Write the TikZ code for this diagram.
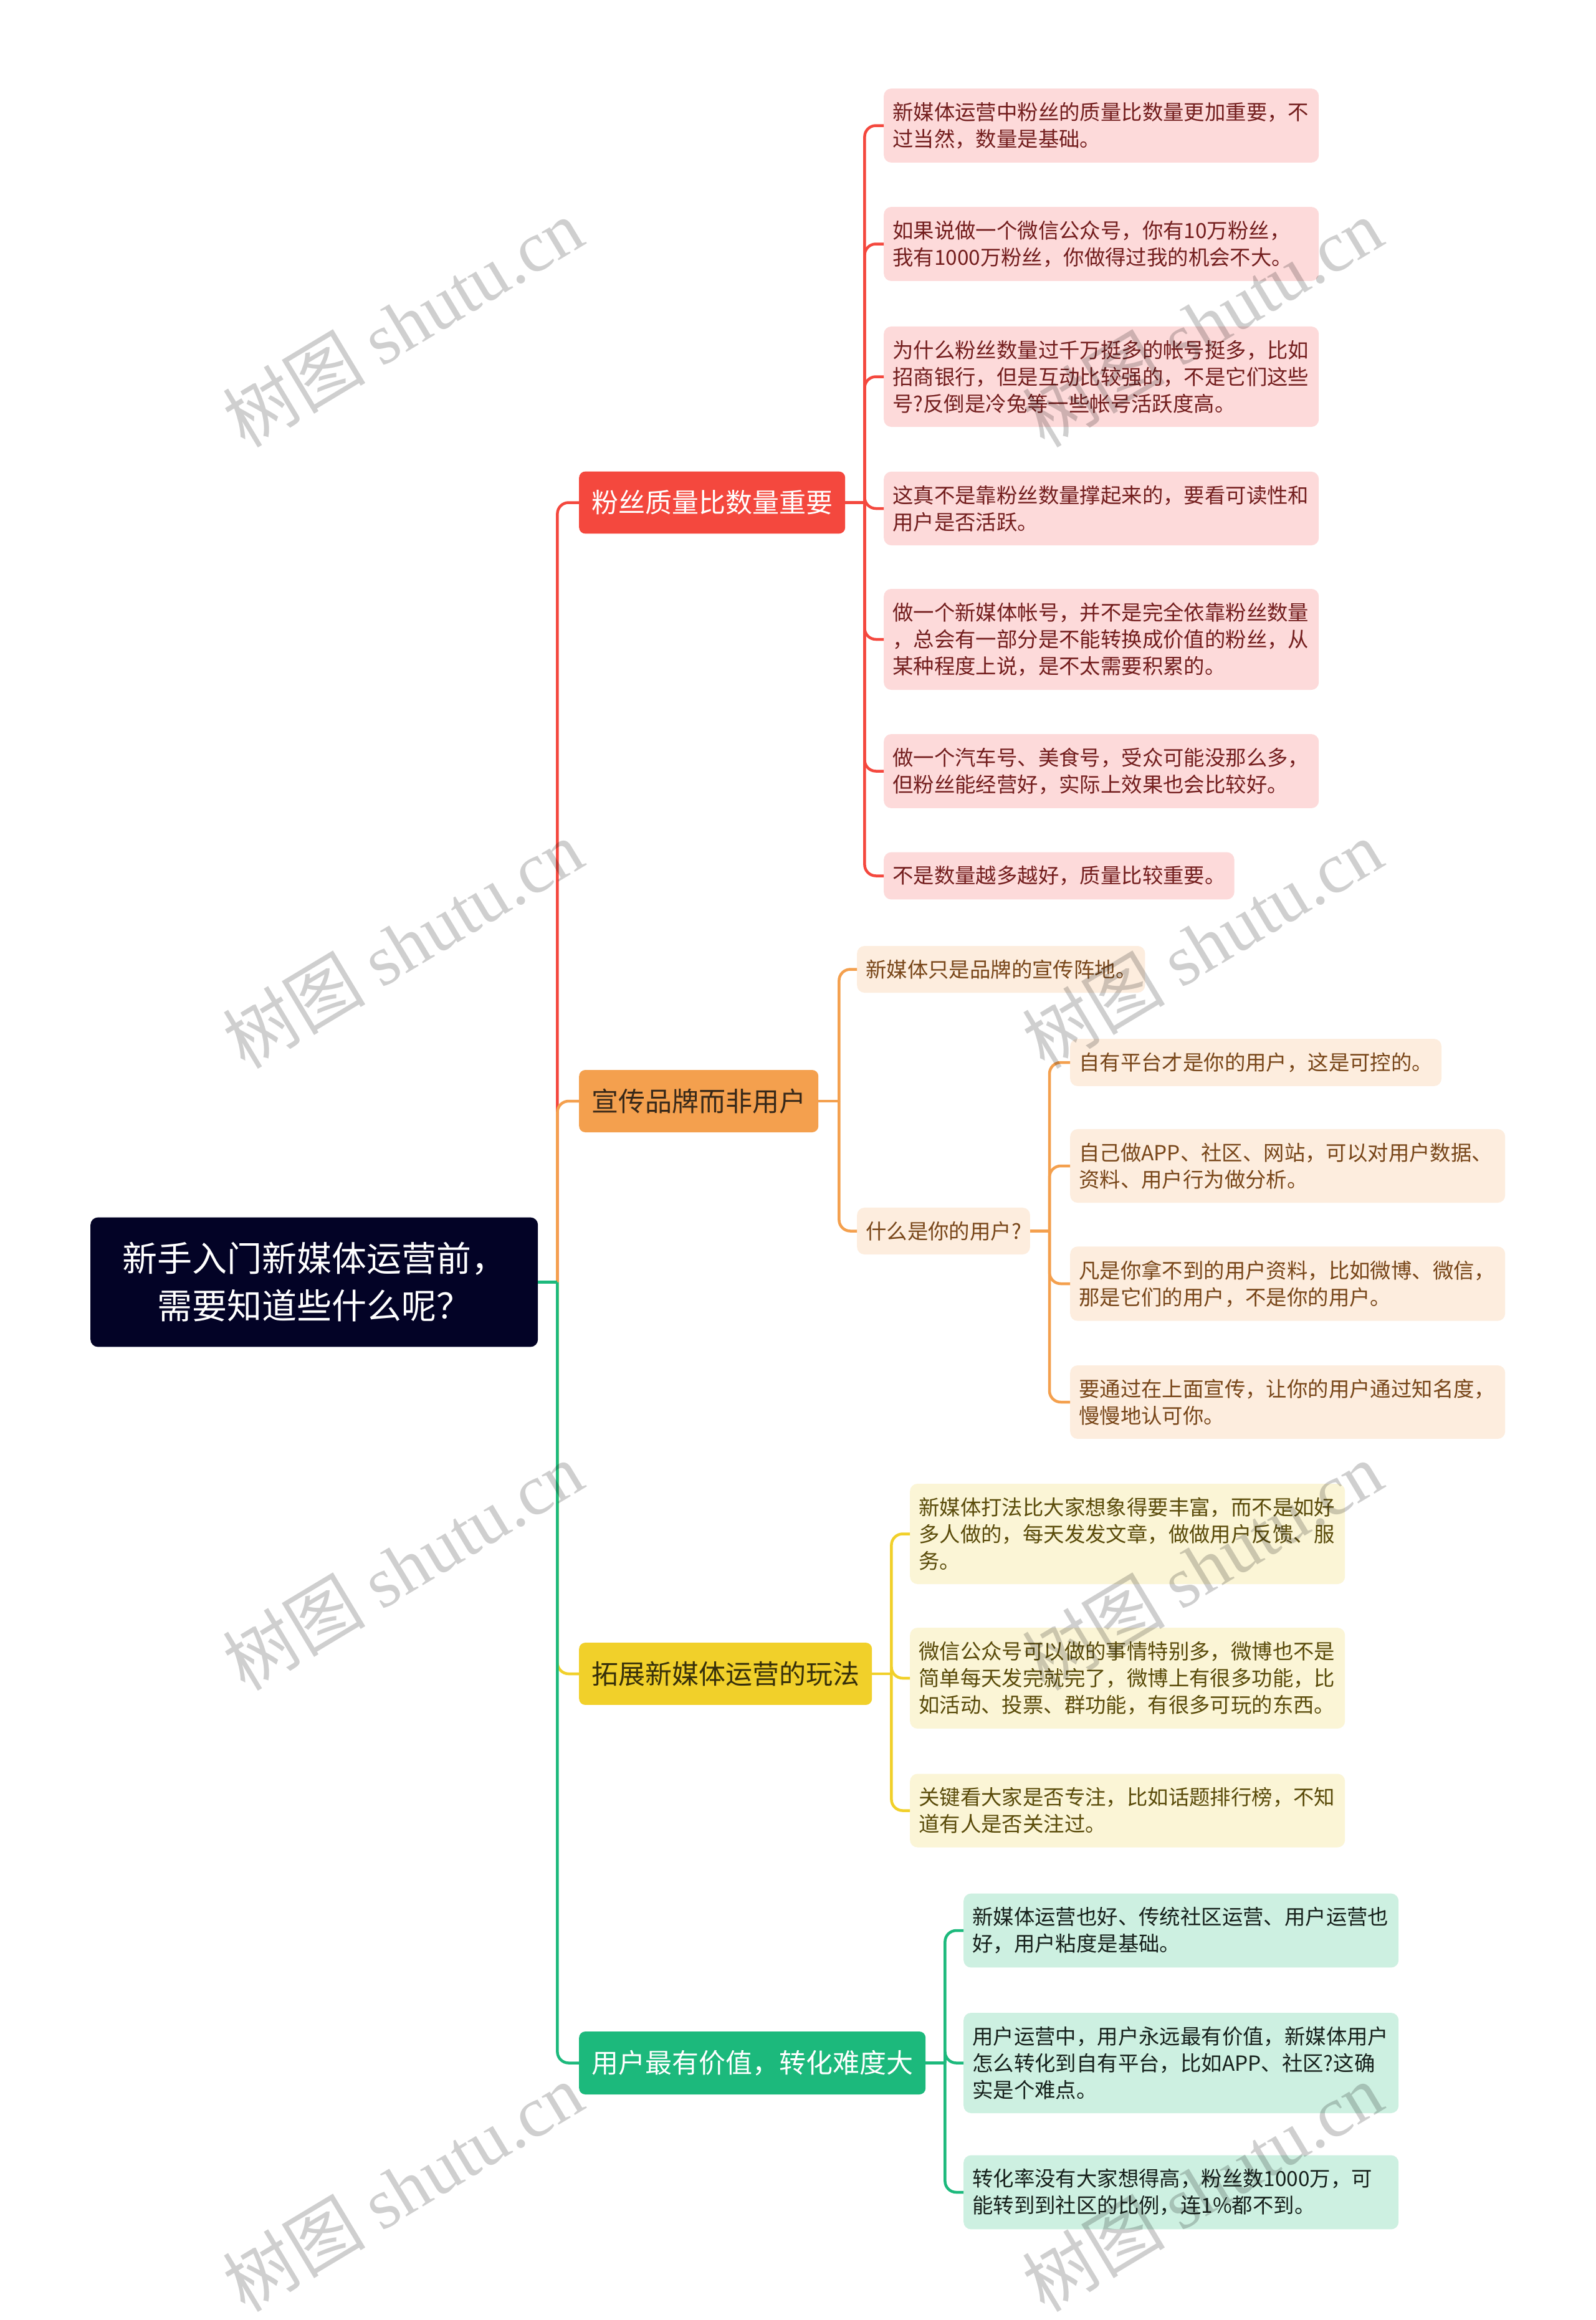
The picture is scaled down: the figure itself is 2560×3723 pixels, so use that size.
\documentclass[tikz,border=0pt]{standalone}
\usepackage{fontspec}
\setmainfont{Noto Sans CJK SC}
\newfontfamily\wmlatin{Liberation Serif}
\definecolor{rootbg}{RGB}{3,3,38}
\definecolor{redM}{RGB}{244,72,62}
\definecolor{orgM}{RGB}{244,160,78}
\definecolor{yelM}{RGB}{241,208,42}
\definecolor{grnM}{RGB}{28,185,124}
\definecolor{redL}{RGB}{253,218,218}
\definecolor{orgL}{RGB}{253,237,222}
\definecolor{yelL}{RGB}{251,245,214}
\definecolor{grnL}{RGB}{205,240,225}
\definecolor{redT}{RGB}{115,30,30}
\definecolor{orgT}{RGB}{120,70,25}
\definecolor{yelT}{RGB}{90,75,10}
\definecolor{grnT}{RGB}{22,32,27}
\definecolor{orgD}{RGB}{55,40,25}
\definecolor{yelD}{RGB}{55,48,10}
\tikzset{
  rootbox/.style={anchor=west, fill=rootbg, text=white, rounded corners=12pt,
    align=center, inner xsep=51pt, inner ysep=40pt, font=\fontsize{56}{76}\selectfont},
  mainbox/.style={anchor=west, rounded corners=10pt, inner xsep=20pt, inner ysep=30pt,
    font=\fontsize{43}{50}\selectfont},
  leaf/.style={anchor=west, rounded corners=12pt, align=left, inner xsep=14pt,
    inner ysep=22pt, font=\fontsize{33.4}{43}\selectfont},
  wide/.style={text width=670pt},
  rleaf/.style={leaf, fill=redL, text=redT},
  oleaf/.style={leaf, fill=orgL, text=orgT},
  yleaf/.style={leaf, fill=yelL, text=yelT},
  gleaf/.style={leaf, fill=grnL, text=grnT},
  link/.style={line width=4.5pt},
  wmark/.style={rotate=31, text=black, opacity=0.19, font=\fontsize{115}{115}\selectfont}
}
\begin{document}
\begin{tikzpicture}[x=1pt,y=-1pt]
    \fill[white] (0,0) rectangle (2560,3723);
    \useasboundingbox (0,0) rectangle (2560,3723);

    % root and main topics
    \node[rootbox] (root) at (145,2057.5) {新手入门新媒体运营前，\\需要知道些什么呢？};
    \node[mainbox, fill=redM, text=white] (fans) at (929,806.5) {粉丝质量比数量重要};
    \node[mainbox, fill=orgM, text=orgD] (brand) at (929,1767) {宣传品牌而非用户};
    \node[mainbox, fill=yelM, text=yelD] (play) at (929,2686) {拓展新媒体运营的玩法};
    \node[mainbox, fill=grnM, text=white] (value) at (929,3310.5) {用户最有价值，转化难度大};

    % fans
    \node[rleaf, wide] (f1) at (1418,201.5) {新媒体运营中粉丝的质量比数量更加重要，不\\过当然，数量是基础。};
    \node[rleaf, wide] (f2) at (1418,391.5) {如果说做一个微信公众号，你有10万粉丝，\\我有1000万粉丝，你做得过我的机会不大。};
    \node[rleaf, wide] (f3) at (1418,604.5) {为什么粉丝数量过千万挺多的帐号挺多，比如\\招商银行，但是互动比较强的，不是它们这些\\号?反倒是冷兔等一些帐号活跃度高。};
    \node[rleaf, wide] (f4) at (1418,816) {这真不是靠粉丝数量撑起来的，要看可读性和\\用户是否活跃。};
    \node[rleaf, wide] (f5) at (1418,1026) {做一个新媒体帐号，并不是完全依靠粉丝数量\\，总会有一部分是不能转换成价值的粉丝，从\\某种程度上说，是不太需要积累的。};
    \node[rleaf, wide] (f6) at (1418,1237.5) {做一个汽车号、美食号，受众可能没那么多，\\但粉丝能经营好，实际上效果也会比较好。};
    \node[rleaf] (f7) at (1418,1405.5) {不是数量越多越好，质量比较重要。};

    % brand
    \node[oleaf] (b1) at (1375,1555.5) {新媒体只是品牌的宣传阵地。};
    \node[oleaf] (b2) at (1375,1975.5) {什么是你的用户?};
    \node[oleaf] (u1) at (1717,1705) {自有平台才是你的用户，这是可控的。};
    \node[oleaf, wide] (u2) at (1717,1871) {自己做APP、社区、网站，可以对用户数据、\\资料、用户行为做分析。};
    \node[oleaf, wide] (u3) at (1717,2060) {凡是你拿不到的用户资料，比如微博、微信，\\那是它们的用户，不是你的用户。};
    \node[oleaf, wide] (u4) at (1717,2250) {要通过在上面宣传，让你的用户通过知名度，\\慢慢地认可你。};

    % play
    \node[yleaf, wide] (p1) at (1460,2461.5) {新媒体打法比大家想象得要丰富，而不是如好\\多人做的，每天发发文章，做做用户反馈、服\\务。};
    \node[yleaf, wide] (p2) at (1460,2693) {微信公众号可以做的事情特别多，微博也不是\\简单每天发完就完了，微博上有很多功能，比\\如活动、投票、群功能，有很多可玩的东西。};
    \node[yleaf, wide] (p3) at (1460,2905.5) {关键看大家是否专注，比如话题排行榜，不知\\道有人是否关注过。};

    % value
    \node[gleaf, wide] (v1) at (1546,3098) {新媒体运营也好、传统社区运营、用户运营也\\好，用户粘度是基础。};
    \node[gleaf, wide] (v2) at (1546,3310.5) {用户运营中，用户永远最有价值，新媒体用户\\怎么转化到自有平台，比如APP、社区?这确\\实是个难点。};
    \node[gleaf, wide] (v3) at (1546,3518) {转化率没有大家想得高，粉丝数1000万，可\\能转到到社区的比例，连1\%都不到。};

    % connectors
    \coordinate (rj) at ([xshift=31pt]root.east);
    \foreach \b/\c in {fans/redM, brand/orgM, play/yelM, value/grnM}
        \draw[link, \c, rounded corners=18pt] (rj) |- (\b.west);
    \draw[link, grnM] (root.east) -- (rj);

    \coordinate (fj) at ([xshift=31pt]fans.east);
    \draw[link, redM] (fans.east) -- (fj);
    \foreach \i in {1,...,7}
        \draw[link, redM, rounded corners=18pt] (fj) |- (f\i.west);

    \coordinate (bj) at ([xshift=33pt]brand.east);
    \draw[link, orgM] (brand.east) -- (bj);
    \foreach \i in {1,2}
        \draw[link, orgM, rounded corners=18pt] (bj) |- (b\i.west);
    \coordinate (uj) at ([xshift=31pt]b2.east);
    \draw[link, orgM] (b2.east) -- (uj);
    \foreach \i in {1,...,4}
        \draw[link, orgM, rounded corners=18pt] (uj) |- (u\i.west);

    \coordinate (pj) at ([xshift=31pt]play.east);
    \draw[link, yelM] (play.east) -- (pj);
    \foreach \i in {1,2,3}
        \draw[link, yelM, rounded corners=18pt] (pj) |- (p\i.west);

    \coordinate (vj) at ([xshift=31pt]value.east);
    \draw[link, grnM] (value.east) -- (vj);
    \foreach \i in {1,2,3}
        \draw[link, grnM, rounded corners=18pt] (vj) |- (v\i.west);

    % watermark
    \foreach \x in {646,1929}
        \foreach \y in {518,1515,2513,3510}
            \node[wmark] (wm\x\y) at (\x,\y) {树图 {\wmlatin shutu.cn}};
\end{tikzpicture}
\end{document}
